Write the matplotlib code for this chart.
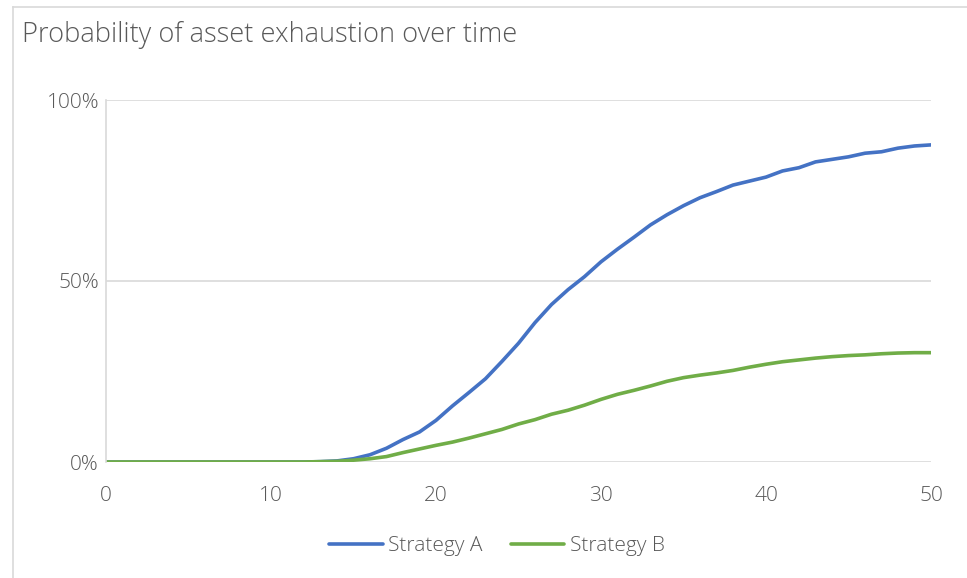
import matplotlib.pyplot as plt
from matplotlib.lines import Line2D
from matplotlib.ticker import FuncFormatter

years = list(range(0, 51))
strategy_a = [0, 0, 0, 0, 0, 0, 0, 0, 0, 0, 0, 0, 0,
              0.1, 0.3, 0.9, 2.0, 3.8, 6.2, 8.3, 11.5, 15.5, 19.2, 23.0, 27.8, 32.8,
              38.5, 43.5, 47.6, 51.2, 55.3, 58.8, 62.1, 65.5, 68.3, 70.8, 73.0, 74.7,
              76.5, 77.6, 78.7, 80.4, 81.3, 82.9, 83.6, 84.3, 85.3, 85.7, 86.7, 87.3, 87.6]
strategy_b = [0, 0, 0, 0, 0, 0, 0, 0, 0, 0, 0, 0, 0,
              0.1, 0.2, 0.5, 0.9, 1.5, 2.6, 3.6, 4.6, 5.5, 6.6, 7.8, 9.0, 10.5,
              11.7, 13.2, 14.3, 15.7, 17.3, 18.7, 19.8, 21.0, 22.3, 23.3, 24.0, 24.6,
              25.3, 26.2, 27.0, 27.7, 28.2, 28.7, 29.1, 29.4, 29.6, 29.9, 30.1, 30.2, 30.2]
labels = ["Strategy A", "Strategy B"]

plt.rcParams['font.family'] = ['Open Sans', 'DejaVu Sans']
text_col = '#595959'
grid_col = '#D9D9D9'

fig = plt.figure(figsize=(9.67, 5.78), dpi=100)
ax = fig.add_axes([106 / 967, 1 - 462 / 578, 825 / 967, 362 / 578])

ax.plot(years, strategy_a, color='#4472C4', lw=2.6, label=labels[0], solid_capstyle='round')
ax.plot(years, strategy_b, color='#70AD47', lw=2.6, label=labels[1], solid_capstyle='round')

ax.set_xlim(0, 50)
ax.set_ylim(0, 100)
ax.set_xticks(range(0, 51, 10))
ax.set_yticks([0, 50, 100])
ax.yaxis.set_major_formatter(FuncFormatter(lambda v, p: f"{v:.0f}%"))
ax.grid(axis='y', color=grid_col, lw=1.2)
ax.set_axisbelow(True)
for s in ['top', 'right', 'bottom']:
    ax.spines[s].set_visible(False)
ax.spines['left'].set_color(grid_col)
ax.spines['left'].set_linewidth(1.2)
ax.tick_params(length=0, labelsize=15, colors=text_col)
ax.tick_params(axis='x', pad=17)
ax.tick_params(axis='y', pad=5)
for t in ax.get_xticklabels() + ax.get_yticklabels():
    t.set_fontweight('light')

# outer chart frame
fig.add_artist(Line2D([13 / 967, 13 / 967], [0, 1 - 7 / 578], color=grid_col, lw=1.2))
fig.add_artist(Line2D([13 / 967, 1], [1 - 7 / 578, 1 - 7 / 578], color=grid_col, lw=1.2))

fig.text(22 / 967, 1 - 35 / 578, "Probability of asset exhaustion over time",
         fontsize=19.6, color=text_col, va='center', ha='left', fontweight='light')

leg = fig.legend(loc='center', bbox_to_anchor=(497 / 967, 1 - 546 / 578), ncol=2,
                 frameon=False, fontsize=15, handlelength=2.55, handletextpad=0.25,
                 columnspacing=1.4)
for t in leg.get_texts():
    t.set_color(text_col)
    t.set_fontweight('light')

fig.savefig('out.png', dpi=100)
